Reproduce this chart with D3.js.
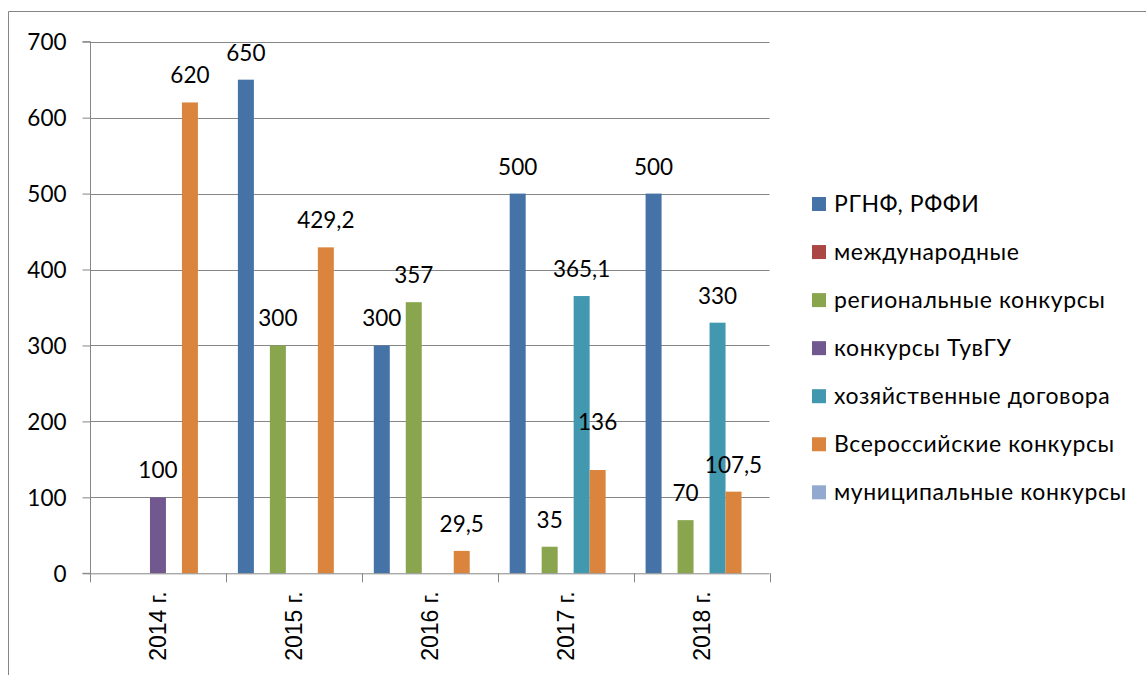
<!DOCTYPE html>
<html>
<head>
<meta charset="utf-8">
<script src="https://cdn.jsdelivr.net/npm/d3@7"></script>
<style>
  html, body { margin: 0; padding: 0; background: #fff; }
  svg { display: block; }
</style>
</head>
<body>
<svg id="chart" width="1146" height="675"></svg>
<script>
const categories = ["2014 г.", "2015 г.", "2016 г.", "2017 г.", "2018 г."];
const seriesNames = [
  "РГНФ, РФФИ",
  "международные",
  "региональные конкурсы",
  "конкурсы ТувГУ",
  "хозяйственные договора",
  "Всероссийские конкурсы",
  "муниципальные конкурсы"
];
// values per series, per category (null = no bar)
const rgnf        = [null, 650, 300, 500, 500];
const intl        = [null, null, null, null, null];
const regional    = [null, 300, 357, 35, 70];
const tuvgu       = [100, null, null, null, null];
const contracts   = [null, null, null, 365.1, 330];
const allRussian  = [620, 429.2, 29.5, 136, 107.5];
const municipal   = [null, null, null, null, null];
const yTicks = [0, 100, 200, 300, 400, 500, 600, 700];

const seriesValues = [rgnf, intl, regional, tuvgu, contracts, allRussian, municipal];
const colors = ["#4572A7", "#AA4643", "#89A54E", "#71588F", "#4198AF", "#DB843D", "#93A9CF"];
// manual label nudges (px, upward) for labels moved in the original
const labelNudge = { "3-5": 21 };

const svg = d3.select("#chart");
const FONT = "Lato, 'Open Sans', 'DejaVu Sans', sans-serif";
const gridColor = "#868686";

const plot = { left: 90, right: 769.5, top: 41.7, bottom: 573.3 };

const x = d3.scaleBand().domain(categories).range([plot.left, plot.right]).paddingInner(0).paddingOuter(0);
const xs = d3.scaleBand().domain(d3.range(seriesNames.length)).range([0, x.bandwidth()]).paddingInner(0).paddingOuter(0.75);
const y = d3.scaleLinear().domain([0, 700]).range([plot.bottom, plot.top]);

// outer frame (left + top)
svg.append("path")
  .attr("d", `M8.5,675 L8.5,11.5 L1146,11.5`)
  .attr("fill", "none").attr("stroke", gridColor).attr("stroke-width", 1);

// gridlines
svg.append("g").selectAll("line").data(yTicks.filter(d => d > 0)).join("line")
  .attr("x1", plot.left).attr("x2", plot.right)
  .attr("y1", d => Math.round(y(d)) + 0.5).attr("y2", d => Math.round(y(d)) + 0.5)
  .attr("stroke", gridColor).attr("stroke-width", 1);

// y axis
const yAxis = d3.axisLeft(y).tickValues(yTicks).tickSize(8).tickPadding(16).tickFormat(d3.format("d"));
const gy = svg.append("g").attr("transform", `translate(${plot.left + 0.5},0)`).call(yAxis);
gy.select(".domain").attr("stroke", gridColor).attr("d", `M-8,${plot.bottom}H0V${plot.top}H-8`);
gy.selectAll(".tick line").attr("stroke", gridColor);
gy.selectAll(".tick text").attr("font-family", FONT).attr("font-size", 22.5).attr("fill", "#000").attr("dy", "0.36em");

// bars
const groups = svg.append("g").selectAll("g").data(seriesValues).join("g")
  .attr("fill", (d, i) => colors[i]);
groups.each(function(vals, si) {
  d3.select(this).selectAll("rect")
    .data(vals.map((v, ci) => ({ v, ci })).filter(d => d.v !== null))
    .join("rect")
    .attr("x", d => x(categories[d.ci]) + xs(si))
    .attr("width", xs.bandwidth())
    .attr("y", d => y(d.v))
    .attr("height", d => y(0) - y(d.v));
});

// x axis
const xAxis = d3.axisBottom(x).tickSize(0).tickFormat("");
const gx = svg.append("g").attr("transform", `translate(0,${plot.bottom})`).call(xAxis);
gx.select(".domain").attr("stroke", gridColor).attr("d", `M${plot.left},0.5H${plot.right}`);
// category boundary ticks
const bounds = categories.map(c => x(c)).concat([plot.right]);
svg.append("g").selectAll("line").data(bounds).join("line")
  .attr("x1", d => Math.round(d) + 0.5).attr("x2", d => Math.round(d) + 0.5)
  .attr("y1", plot.bottom).attr("y2", plot.bottom + 9)
  .attr("stroke", gridColor);
// category labels rotated
svg.append("g").selectAll("text").data(categories).join("text")
  .attr("transform", d => `translate(${x(d) + x.bandwidth() / 2 + 8},${plot.bottom + 18}) rotate(-90)`)
  .attr("text-anchor", "end")
  .attr("font-family", "'Liberation Sans', Arial, sans-serif")
  .attr("font-size", 23)
  .attr("fill", "#000")
  .text(d => d);

// data labels
const fmt = v => String(v).replace(".", ",");
const labelData = [];
seriesValues.forEach((vals, si) => vals.forEach((v, ci) => {
  if (v !== null) labelData.push({ si, ci, v });
}));
svg.append("g").selectAll("text").data(labelData).join("text")
  .attr("x", d => x(categories[d.ci]) + xs(d.si) + xs.bandwidth() / 2)
  .attr("y", d => y(d.v) - 19 - (labelNudge[d.ci + "-" + d.si] || 0))
  .attr("text-anchor", "middle")
  .attr("font-family", FONT).attr("font-size", 22.5).attr("fill", "#000")
  .text(d => fmt(d.v));

// legend
const legend = svg.append("g").attr("transform", "translate(812,204)");
const li = legend.selectAll("g").data(seriesNames).join("g")
  .attr("transform", (d, i) => `translate(0,${i * 48.05})`);
li.append("rect").attr("x", 0).attr("y", -7).attr("width", 14).attr("height", 14)
  .attr("fill", (d, i) => colors[i]);
li.append("text").attr("x", 22).attr("y", 8)
  .attr("font-family", FONT).attr("font-size", 23).attr("letter-spacing", 0.6).attr("fill", "#000")
  .text(d => d);
</script>
</body>
</html>
